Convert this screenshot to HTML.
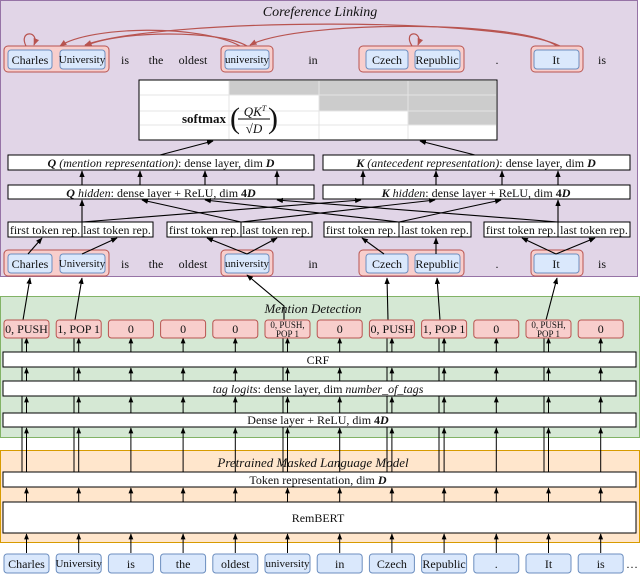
<!DOCTYPE html>
<html><head><meta charset="utf-8"><style>
html,body{margin:0;padding:0;background:#fff}
svg{display:block}
text{font-family:"Liberation Serif",serif;fill:#111}
</style></head><body>
<svg width="640" height="574" viewBox="0 0 640 574" xmlns="http://www.w3.org/2000/svg">
<defs>
<marker id="a" viewBox="0 0 10 10" refX="9" refY="5" markerWidth="6" markerHeight="6" orient="auto-start-reverse"><path d="M0,1 L10,5 L0,9 z" fill="#000"/></marker>
<marker id="r" viewBox="0 0 10 10" refX="9" refY="5" markerWidth="6" markerHeight="6" orient="auto-start-reverse"><path d="M0,1 L10,5 L0,9 z" fill="#b85450"/></marker>
</defs>
<!-- regions -->
<rect x="0.5" y="0.5" width="637" height="276" fill="#e1d5e7" stroke="#9673a6"/>
<rect x="0.5" y="296.5" width="639" height="141" fill="#d5e8d4" stroke="#82b366"/>
<rect x="0.5" y="450.5" width="639" height="92" fill="#ffe6cc" stroke="#d79b00"/>
<text x="320" y="16" font-size="14" font-style="italic" text-anchor="middle">Coreference Linking</text>
<text x="313" y="313" font-size="13" font-style="italic" text-anchor="middle">Mention Detection</text>
<text x="313" y="467" font-size="13" font-style="italic" text-anchor="middle">Pretrained Masked Language Model</text>

<!-- top tokens row -->
<g font-size="12">
<g fill="#f8cecc" stroke="#b85450" stroke-width="1">
<rect x="4" y="46" width="105" height="26" rx="4"/><rect x="221" y="46" width="52" height="26" rx="4"/>
<rect x="359" y="46" width="105" height="26" rx="4"/><rect x="531" y="46" width="52" height="26" rx="4"/>
<rect x="4" y="250" width="105" height="26" rx="4"/><rect x="221" y="250" width="52" height="26" rx="4"/>
<rect x="359" y="250" width="105" height="26" rx="4"/><rect x="531" y="250" width="52" height="26" rx="4"/>
</g>
<g fill="#dae8fc" stroke="#6c8ebf">
<rect x="8" y="50" width="44" height="19" rx="3"/><rect x="60" y="50" width="45" height="19" rx="3"/>
<rect x="225" y="50" width="44" height="19" rx="3"/><rect x="366" y="50" width="42" height="19" rx="3"/>
<rect x="415" y="50" width="45" height="19" rx="3"/><rect x="534" y="50" width="45" height="19" rx="3"/>
<rect x="8" y="254" width="44" height="19" rx="3"/><rect x="60" y="254" width="45" height="19" rx="3"/>
<rect x="225" y="254" width="44" height="19" rx="3"/><rect x="366" y="254" width="42" height="19" rx="3"/>
<rect x="415" y="254" width="45" height="19" rx="3"/><rect x="534" y="254" width="45" height="19" rx="3"/>
</g>
<g text-anchor="middle">
<text x="30" y="64">Charles</text><text x="82" y="63" font-size="11">University</text><text x="125" y="64">is</text><text x="156" y="64">the</text><text x="193" y="64">oldest</text><text x="247" y="63" font-size="11">university</text><text x="313" y="64">in</text><text x="387" y="64">Czech</text><text x="437" y="64">Republic</text><text x="497" y="64">.</text><text x="556" y="64">It</text><text x="602" y="64">is</text>
<text x="30" y="268">Charles</text><text x="82" y="267" font-size="11">University</text><text x="125" y="268">is</text><text x="156" y="268">the</text><text x="193" y="268">oldest</text><text x="247" y="267" font-size="11">university</text><text x="313" y="268">in</text><text x="387" y="268">Czech</text><text x="437" y="268">Republic</text><text x="497" y="268">.</text><text x="556" y="268">It</text><text x="602" y="268">is</text>
</g>
</g>
<!-- coref arcs -->
<g fill="none" stroke="#b85450" stroke-width="1.2">
<path d="M26,46 C18,30 40,30 34,45" marker-end="url(#r)"/>
<path d="M412,46 C402,30 424,30 418,45" marker-end="url(#r)"/>
<path d="M247,46 C220,30 120,30 85,46" marker-end="url(#r)"/>
<path d="M240,46 C200,24 90,26 60,46" marker-end="url(#r)"/>
<path d="M557,46 C520,20 300,20 250,45" marker-end="url(#r)"/>
<path d="M560,46 C500,16 160,18 85,45" marker-end="url(#r)"/>
</g>
<!-- softmax table -->
<rect x="139" y="80" width="358" height="60" fill="#fff" stroke="#000"/>
<rect x="229" y="81" width="267" height="14" fill="#ccc"/>
<rect x="319" y="95" width="177" height="16" fill="#ccc"/>
<rect x="408" y="111" width="88" height="14" fill="#ccc"/>
<g stroke="#e4e4e4" stroke-width="1"><line x1="140" y1="95" x2="496" y2="95"/><line x1="140" y1="111" x2="496" y2="111"/><line x1="140" y1="125" x2="496" y2="125"/><line x1="229" y1="81" x2="229" y2="139"/><line x1="319" y1="81" x2="319" y2="139"/><line x1="408" y1="81" x2="408" y2="139"/></g>
<rect x="139" y="80" width="358" height="60" fill="none" stroke="#000"/>
<text x="226" y="123" font-size="13" font-weight="bold" text-anchor="end">softmax</text>
<text x="230" y="128" font-size="30">(</text>
<text x="255" y="116" font-size="13" font-style="italic" text-anchor="middle">QK<tspan font-size="8" dy="-5">T</tspan></text>
<line x1="238" y1="119" x2="270" y2="119" stroke="#000"/>
<text x="254" y="133" font-size="13" text-anchor="middle">√<tspan font-style="italic">D</tspan></text>
<text x="268" y="128" font-size="30">)</text>

<!-- Q/K boxes -->
<g fill="#fff" stroke="#000">
<rect x="8" y="155" width="306" height="15"/><rect x="323" y="155" width="307" height="15"/>
<rect x="8" y="185" width="306" height="14"/><rect x="323" y="185" width="307" height="14"/>
<rect x="8" y="222" width="74" height="15"/><rect x="82" y="222" width="71" height="15"/>
<rect x="167" y="222" width="74" height="15"/><rect x="241" y="222" width="71" height="15"/>
<rect x="324" y="222" width="75" height="15"/><rect x="399" y="222" width="72" height="15"/>
<rect x="484" y="222" width="74" height="15"/><rect x="558" y="222" width="72" height="15"/>
</g>
<g font-size="12" text-anchor="middle">
<text x="161" y="167"><tspan font-style="italic" font-weight="bold">Q</tspan><tspan font-style="italic"> (mention representation)</tspan>: dense layer, dim <tspan font-style="italic" font-weight="bold">D</tspan></text>
<text x="476" y="167"><tspan font-style="italic" font-weight="bold">K</tspan><tspan font-style="italic"> (antecedent representation)</tspan>: dense layer, dim <tspan font-style="italic" font-weight="bold">D</tspan></text>
<text x="161" y="197"><tspan font-style="italic" font-weight="bold">Q</tspan><tspan font-style="italic"> hidden</tspan>: dense layer + ReLU, dim <tspan font-weight="bold">4</tspan><tspan font-style="italic" font-weight="bold">D</tspan></text>
<text x="476" y="197"><tspan font-style="italic" font-weight="bold">K</tspan><tspan font-style="italic"> hidden</tspan>: dense layer + ReLU, dim <tspan font-weight="bold">4</tspan><tspan font-style="italic" font-weight="bold">D</tspan></text>
<text x="45" y="234">first token rep.</text><text x="117" y="234">last token rep.</text>
<text x="204" y="234">first token rep.</text><text x="276" y="234">last token rep.</text>
<text x="361" y="234">first token rep.</text><text x="435" y="234">last token rep.</text>
<text x="521" y="234">first token rep.</text><text x="594" y="234">last token rep.</text>
</g>
<g stroke="#000" stroke-width="1.1" fill="none" marker-end="url(#a)">
<line x1="160" y1="155" x2="213" y2="141"/><line x1="475" y1="155" x2="420" y2="141"/>
<line x1="82" y1="185" x2="82" y2="171"/><line x1="140" y1="185" x2="140" y2="171"/><line x1="205" y1="185" x2="205" y2="171"/><line x1="277" y1="185" x2="277" y2="171"/>
<line x1="363" y1="185" x2="363" y2="171"/><line x1="436" y1="185" x2="436" y2="171"/><line x1="502" y1="185" x2="502" y2="171"/><line x1="558" y1="185" x2="558" y2="171"/>
<line x1="82" y1="222" x2="82" y2="200"/><line x1="82" y1="222" x2="361" y2="200"/>
<line x1="241" y1="222" x2="142" y2="200"/><line x1="241" y1="222" x2="435" y2="200"/>
<line x1="399" y1="222" x2="205" y2="200"/><line x1="399" y1="222" x2="501" y2="200"/>
<line x1="558" y1="222" x2="277" y2="200"/><line x1="558" y1="222" x2="558" y2="200"/>
<line x1="28" y1="254" x2="42" y2="238"/><line x1="82" y1="254" x2="117" y2="238"/>
<line x1="247" y1="254" x2="207" y2="238"/><line x1="247" y1="254" x2="277" y2="238"/>
<line x1="384" y1="254" x2="362" y2="238"/><line x1="436" y1="254" x2="436" y2="238"/>
<line x1="556" y1="254" x2="522" y2="238"/><line x1="556" y1="254" x2="595" y2="238"/>
<line x1="23" y1="320" x2="30" y2="278"/><line x1="75" y1="320" x2="82" y2="278"/>
<polyline points="284,320 284,306 247,275"/>
<line x1="388" y1="320" x2="387" y2="278"/><line x1="440" y1="320" x2="437" y2="278"/>
<line x1="546" y1="320" x2="557" y2="278"/>
</g>

<!-- second lines for mention columns (under boxes) -->
<g stroke="#000" stroke-width="1">
<path d="M22,487V338M74,487V338M283,487V338M387,487V338M439,487V338M544,487V338"/>
</g>
<!-- layers -->
<g fill="#fff" stroke="#000">
<rect x="3" y="352" width="633" height="15"/><rect x="3" y="381" width="633" height="15"/><rect x="3" y="413" width="633" height="14"/>
<rect x="3" y="472" width="633" height="15"/><rect x="3" y="502" width="633" height="31"/>
</g>
<g font-size="12" text-anchor="middle">
<text x="318" y="364">CRF</text>
<text x="318" y="393"><tspan font-style="italic">tag logits</tspan>: dense layer, dim <tspan font-style="italic">number_of_tags</tspan></text>
<text x="318" y="424">Dense layer + ReLU, dim <tspan font-weight="bold">4</tspan><tspan font-style="italic" font-weight="bold">D</tspan></text>
<text x="318" y="484">Token representation, dim <tspan font-style="italic" font-weight="bold">D</tspan></text>
<text x="318" y="522">RemBERT</text>
</g>
<!-- vertical arrows -->
<g stroke="#000" stroke-width="1" marker-end="url(#a)">
<line x1="26.5" y1="553" x2="26.5" y2="534"/><line x1="78.7" y1="553" x2="78.7" y2="534"/><line x1="130.9" y1="553" x2="130.9" y2="534"/><line x1="183.1" y1="553" x2="183.1" y2="534"/><line x1="235.3" y1="553" x2="235.3" y2="534"/><line x1="287.5" y1="553" x2="287.5" y2="534"/><line x1="339.7" y1="553" x2="339.7" y2="534"/><line x1="391.9" y1="553" x2="391.9" y2="534"/><line x1="444.1" y1="553" x2="444.1" y2="534"/><line x1="496.3" y1="553" x2="496.3" y2="534"/><line x1="548.5" y1="553" x2="548.5" y2="534"/><line x1="600.7" y1="553" x2="600.7" y2="534"/>
<line x1="26.5" y1="502" x2="26.5" y2="488"/><line x1="78.7" y1="502" x2="78.7" y2="488"/><line x1="130.9" y1="502" x2="130.9" y2="488"/><line x1="183.1" y1="502" x2="183.1" y2="488"/><line x1="235.3" y1="502" x2="235.3" y2="488"/><line x1="287.5" y1="502" x2="287.5" y2="488"/><line x1="339.7" y1="502" x2="339.7" y2="488"/><line x1="391.9" y1="502" x2="391.9" y2="488"/><line x1="444.1" y1="502" x2="444.1" y2="488"/><line x1="496.3" y1="502" x2="496.3" y2="488"/><line x1="548.5" y1="502" x2="548.5" y2="488"/><line x1="600.7" y1="502" x2="600.7" y2="488"/>
<line x1="26.5" y1="472" x2="26.5" y2="428"/><line x1="78.7" y1="472" x2="78.7" y2="428"/><line x1="130.9" y1="472" x2="130.9" y2="428"/><line x1="183.1" y1="472" x2="183.1" y2="428"/><line x1="235.3" y1="472" x2="235.3" y2="428"/><line x1="287.5" y1="472" x2="287.5" y2="428"/><line x1="339.7" y1="472" x2="339.7" y2="428"/><line x1="391.9" y1="472" x2="391.9" y2="428"/><line x1="444.1" y1="472" x2="444.1" y2="428"/><line x1="496.3" y1="472" x2="496.3" y2="428"/><line x1="548.5" y1="472" x2="548.5" y2="428"/><line x1="600.7" y1="472" x2="600.7" y2="428"/>
<line x1="26.5" y1="413" x2="26.5" y2="397"/><line x1="78.7" y1="413" x2="78.7" y2="397"/><line x1="130.9" y1="413" x2="130.9" y2="397"/><line x1="183.1" y1="413" x2="183.1" y2="397"/><line x1="235.3" y1="413" x2="235.3" y2="397"/><line x1="287.5" y1="413" x2="287.5" y2="397"/><line x1="339.7" y1="413" x2="339.7" y2="397"/><line x1="391.9" y1="413" x2="391.9" y2="397"/><line x1="444.1" y1="413" x2="444.1" y2="397"/><line x1="496.3" y1="413" x2="496.3" y2="397"/><line x1="548.5" y1="413" x2="548.5" y2="397"/><line x1="600.7" y1="413" x2="600.7" y2="397"/>
<line x1="26.5" y1="381" x2="26.5" y2="368"/><line x1="78.7" y1="381" x2="78.7" y2="368"/><line x1="130.9" y1="381" x2="130.9" y2="368"/><line x1="183.1" y1="381" x2="183.1" y2="368"/><line x1="235.3" y1="381" x2="235.3" y2="368"/><line x1="287.5" y1="381" x2="287.5" y2="368"/><line x1="339.7" y1="381" x2="339.7" y2="368"/><line x1="391.9" y1="381" x2="391.9" y2="368"/><line x1="444.1" y1="381" x2="444.1" y2="368"/><line x1="496.3" y1="381" x2="496.3" y2="368"/><line x1="548.5" y1="381" x2="548.5" y2="368"/><line x1="600.7" y1="381" x2="600.7" y2="368"/>
<line x1="26.5" y1="352" x2="26.5" y2="338"/><line x1="78.7" y1="352" x2="78.7" y2="338"/><line x1="130.9" y1="352" x2="130.9" y2="338"/><line x1="183.1" y1="352" x2="183.1" y2="338"/><line x1="235.3" y1="352" x2="235.3" y2="338"/><line x1="287.5" y1="352" x2="287.5" y2="338"/><line x1="339.7" y1="352" x2="339.7" y2="338"/><line x1="391.9" y1="352" x2="391.9" y2="338"/><line x1="444.1" y1="352" x2="444.1" y2="338"/><line x1="496.3" y1="352" x2="496.3" y2="338"/><line x1="548.5" y1="352" x2="548.5" y2="338"/><line x1="600.7" y1="352" x2="600.7" y2="338"/>
</g>
<!-- labels -->
<g fill="#f8cecc" stroke="#b85450">
<rect x="4" y="320" width="45" height="18" rx="3"/><rect x="56.2" y="320" width="45" height="18" rx="3"/><rect x="108.4" y="320" width="45" height="18" rx="3"/><rect x="160.6" y="320" width="45" height="18" rx="3"/><rect x="212.8" y="320" width="45" height="18" rx="3"/><rect x="265" y="320" width="45" height="18" rx="3"/><rect x="317.2" y="320" width="45" height="18" rx="3"/><rect x="369.4" y="320" width="45" height="18" rx="3"/><rect x="421.6" y="320" width="45" height="18" rx="3"/><rect x="473.8" y="320" width="45" height="18" rx="3"/><rect x="526" y="320" width="45" height="18" rx="3"/><rect x="578.2" y="320" width="45" height="18" rx="3"/>
</g>
<g font-size="12" text-anchor="middle">
<text x="26.5" y="333">0, PUSH</text><text x="78.7" y="333">1, POP 1</text><text x="130.9" y="333">0</text><text x="183.1" y="333">0</text><text x="235.3" y="333">0</text>
<text x="287.5" y="328" font-size="9">0, PUSH,</text><text x="287.5" y="337" font-size="9">POP 1</text>
<text x="339.7" y="333">0</text><text x="391.9" y="333">0, PUSH</text><text x="444.1" y="333">1, POP 1</text><text x="496.3" y="333">0</text>
<text x="548.5" y="328" font-size="9">0, PUSH,</text><text x="548.5" y="337" font-size="9">POP 1</text>
<text x="600.7" y="333">0</text>
</g>
<!-- bottom tokens -->
<g fill="#dae8fc" stroke="#6c8ebf">
<rect x="4" y="554" width="45" height="19" rx="3"/><rect x="56.2" y="554" width="45" height="19" rx="3"/><rect x="108.4" y="554" width="45" height="19" rx="3"/><rect x="160.6" y="554" width="45" height="19" rx="3"/><rect x="212.8" y="554" width="45" height="19" rx="3"/><rect x="265" y="554" width="45" height="19" rx="3"/><rect x="317.2" y="554" width="45" height="19" rx="3"/><rect x="369.4" y="554" width="45" height="19" rx="3"/><rect x="421.6" y="554" width="45" height="19" rx="3"/><rect x="473.8" y="554" width="45" height="19" rx="3"/><rect x="526" y="554" width="45" height="19" rx="3"/><rect x="578.2" y="554" width="45" height="19" rx="3"/>
</g>
<g font-size="12" text-anchor="middle">
<text x="26.5" y="568">Charles</text><text x="78.7" y="567" font-size="11">University</text><text x="130.9" y="568">is</text><text x="183.1" y="568">the</text><text x="235.3" y="568">oldest</text><text x="287.5" y="567" font-size="11">university</text><text x="339.7" y="568">in</text><text x="391.9" y="568">Czech</text><text x="444.1" y="568">Republic</text><text x="496.3" y="568">.</text><text x="548.5" y="568">It</text><text x="600.7" y="568">is</text><text x="632" y="568" fill="#999">…</text>
</g>
</svg>
</body></html>
